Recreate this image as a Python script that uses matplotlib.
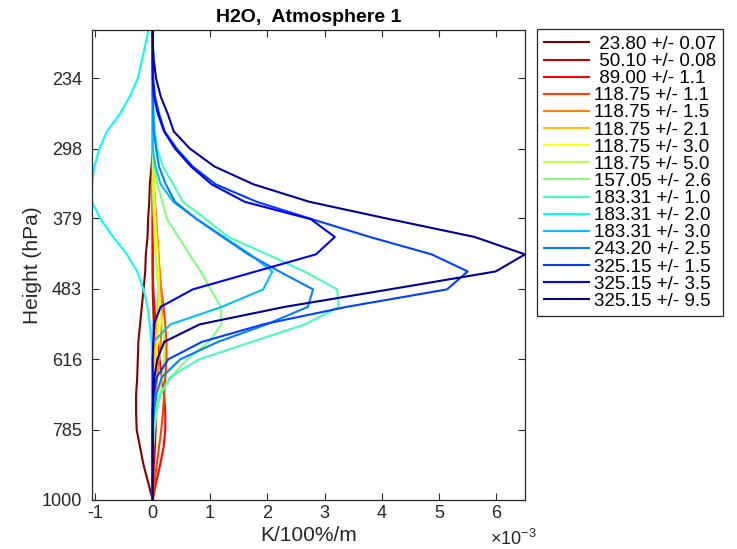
import numpy as np
import matplotlib
matplotlib.use('Agg')
import matplotlib.pyplot as plt
from matplotlib.ticker import NullLocator, FuncFormatter

plt.rcParams['font.family'] = ['Liberation Sans', 'DejaVu Sans']
plt.rcParams['mathtext.fontset'] = 'custom'
plt.rcParams['mathtext.rm'] = 'Liberation Sans'
plt.rcParams['axes.unicode_minus'] = False

# pressure levels (hPa), surface to top
pressure = [1000, 941, 886, 834, 785, 739, 696, 655, 616, 580, 546, 514, 484, 455,
            429, 404, 380, 358, 337, 317, 298, 281, 264, 249, 234, 220, 207, 195]
ytick_vals = [1000, 785, 616, 483, 379, 298, 234]

# channels: centre freq (GHz) and offset
freqs = [23.80, 50.10, 89.00, 118.75, 118.75, 118.75, 118.75, 118.75, 157.05,
         183.31, 183.31, 183.31, 243.20, 325.15, 325.15, 325.15]
offsets = ['0.07', '0.08', '1.1', '1.1', '1.5', '2.1', '3.0', '5.0', '2.6',
           '1.0', '2.0', '3.0', '2.5', '1.5', '3.5', '9.5']

# jacobians, in 1e-3 K/100%/m (one value per pressure level)
jac_2380 = [0, -0.08, -0.16, -0.22, -0.28, -0.29, -0.29, -0.27, -0.26, -0.25, -0.22, -0.19, -0.16, -0.13,
            -0.12, -0.09, -0.08, -0.06, -0.05, -0.02, 0, 0, 0, 0, 0, 0, 0, 0]
jac_5010 = [0, 0.01, 0.02, 0.04, 0.05, 0.06, 0.06, 0.05, 0.04, 0.03, 0.02, 0.01, 0, 0,
            0, 0, 0, 0, 0, 0, 0, 0, 0, 0, 0, 0, 0, 0]
jac_8900 = [0, 0.06, 0.13, 0.19, 0.22, 0.22, 0.20, 0.16, 0.12, 0.08, 0.05, 0.03, 0.01, 0,
            0, 0, 0, 0, 0, 0, 0, 0, 0, 0, 0, 0, 0, 0]
jac_11875_11 = [0, 0.03, 0.07, 0.11, 0.15, 0.18, 0.20, 0.22, 0.24, 0.24, 0.22, 0.19, 0.15, 0.12,
                0.10, 0.08, 0.06, 0.04, 0.02, 0.01, 0, 0, 0, 0, 0, 0, 0, 0]
jac_11875_15 = [0, 0, 0, 0, 0.01, 0.03, 0.05, 0.08, 0.11, 0.14, 0.16, 0.16, 0.15, 0.12,
                0.10, 0.07, 0.05, 0.03, 0.02, 0.01, 0, 0, 0, 0, 0, 0, 0, 0]
jac_11875_21 = [0, 0, 0, 0, 0, 0, 0, 0.02, 0.03, 0.05, 0.07, 0.09, 0.10, 0.10,
                0.09, 0.07, 0.05, 0.03, 0.02, 0.01, 0, 0, 0, 0, 0, 0, 0, 0]
jac_11875_30 = [0, 0, 0, 0, 0, 0.01, 0.02, 0.04, 0.06, 0.08, 0.10, 0.11, 0.11, 0.10,
                0.08, 0.06, 0.04, 0.03, 0.02, 0.01, 0, 0, 0, 0, 0, 0, 0, 0]
jac_11875_50 = [0, 0, 0, 0.01, 0.03, 0.07, 0.12, 0.17, 0.20, 0.20, 0.17, 0.13, 0.10, 0.07,
                0.05, 0.03, 0.02, 0.01, 0, 0, 0, 0, 0, 0, 0, 0, 0, 0]
jac_15705 = [0, 0, 0, 0, 0.01, 0.03, 0.11, 0.32, 0.60, 0.98, 1.20, 1.19, 1.01, 0.84,
             0.64, 0.45, 0.25, 0.17, 0.08, 0.03, 0.01, 0, 0, 0, 0, 0, 0, 0]
jac_18331_10 = [0, 0, 0, 0, 0.02, 0.05, 0.14, 0.30, 0.81, 1.73, 2.66, 3.25, 3.22, 2.65,
                2.00, 1.32, 0.93, 0.53, 0.36, 0.18, 0.08, 0.04, 0.02, 0.01, 0, 0, 0, 0]
jac_18331_20 = [0, 0, 0, 0, 0, 0, 0, 0, -0.01, -0.02, -0.05, -0.09, -0.16, -0.27,
                -0.45, -0.69, -0.91, -1.06, -1.06, -1.02, -0.93, -0.80, -0.57, -0.40, -0.26, -0.19, -0.12, -0.06]
jac_18331_30 = [0, 0, 0, 0, 0, 0, 0, 0, 0, 0.01, 0.31, 1.21, 1.93, 2.09,
                1.70, 1.24, 0.77, 0.36, 0.14, 0.05, 0, 0, 0, 0, 0, 0, 0, 0]
jac_24320 = [0, 0, 0, 0, 0, 0.02, 0.06, 0.16, 0.48, 1.14, 1.99, 2.71, 2.80, 2.21,
             1.67, 1.22, 0.77, 0.39, 0.23, 0.11, 0.06, 0.02, 0.01, 0, 0, 0, 0, 0]
jac_32515_15 = [0, 0, 0, 0, 0, 0, 0.02, 0.07, 0.27, 0.86, 1.93, 3.39, 5.14, 5.50,
                4.87, 3.79, 2.78, 1.82, 1.10, 0.70, 0.42, 0.21, 0.11, 0.04, 0.01, 0, 0, 0]
jac_32515_35 = [0, 0, 0, 0, 0, 0, 0, 0, 0, 0.01, 0.02, 0.14, 0.70, 1.80,
                2.85, 3.18, 2.76, 1.61, 1.03, 0.67, 0.39, 0.20, 0.09, 0.02, 0, 0, 0, 0]
jac_32515_95 = [0, 0, 0, 0, 0, 0, 0.01, 0.03, 0.08, 0.20, 0.82, 2.31, 4.14, 5.99,
                6.50, 5.62, 4.14, 2.74, 1.76, 1.08, 0.65, 0.37, 0.26, 0.14, 0.06, 0.02, 0, 0]

jacobians = [jac_2380, jac_5010, jac_8900, jac_11875_11, jac_11875_15, jac_11875_21,
             jac_11875_30, jac_11875_50, jac_15705, jac_18331_10, jac_18331_20,
             jac_18331_30, jac_24320, jac_32515_15, jac_32515_35, jac_32515_95]

# jet(16), flipped so the lowest frequency is dark red
colors = [(0.5, 0, 0), (0.75, 0, 0), (1, 0, 0), (1, 0.25, 0), (1, 0.5, 0), (1, 0.75, 0),
          (1, 1, 0), (0.75, 1, 0.25), (0.5, 1, 0.5), (0.25, 1, 0.75), (0, 1, 1),
          (0, 0.75, 1), (0, 0.5, 1), (0, 0.25, 1), (0, 0, 1), (0, 0, 0.6)]

fig = plt.figure(figsize=(7.37, 5.49), dpi=100)
ax = fig.add_axes([0.1244, 0.0893, 0.5879, 0.8561])

p = np.array(pressure)
for jac, c, f, o in zip(jacobians, colors, freqs, offsets):
    ax.plot(np.array(jac) * 1e-3, p, color=c, lw=1.5, label=f'{f:6.2f} +/- {o}')

ax.set_yscale('log')
ax.set_ylim(1000, 198)
ax.set_yticks(ytick_vals)
ax.set_yticklabels([str(v) for v in ytick_vals])
ax.yaxis.set_minor_locator(NullLocator())

ax.set_xlim(-1.065e-3, 6.5e-3)
ax.set_xticks(np.arange(-1, 7) * 1e-3)
ax.xaxis.set_major_formatter(FuncFormatter(lambda v, pos: f'{v * 1e3:.0f}'))
ax.annotate('×10$^{-3}$', xy=(1, 0), xycoords='axes fraction', xytext=(8, -21),
            textcoords='offset points', ha='right', va='top', fontsize=13, color='0.15')

ax.tick_params(direction='in', top=True, right=True, length=5, width=0.8,
               colors='0.15', labelsize=13)
ax.tick_params(axis='y', pad=7)
for s in ax.spines.values():
    s.set_color('0.15')
    s.set_linewidth(0.9)

ax.set_xlabel('K/100%/m', fontsize=15, color='0.15', labelpad=3)
ax.set_ylabel('Height (hPa)', fontsize=15, color='0.15', labelpad=0)
ax.set_title('H2O,  Atmosphere 1', fontsize=14, fontweight='bold', pad=6)

leg = ax.legend(loc='upper left', bbox_to_anchor=(1.028, 1.0015), borderaxespad=0,
                fontsize=13.5, fancybox=False, edgecolor='0.15', framealpha=1,
                handlelength=2.4, handletextpad=0.3, labelspacing=0.0, borderpad=0.35)
leg.get_frame().set_linewidth(0.9)

fig.savefig('out.png', dpi=100)
